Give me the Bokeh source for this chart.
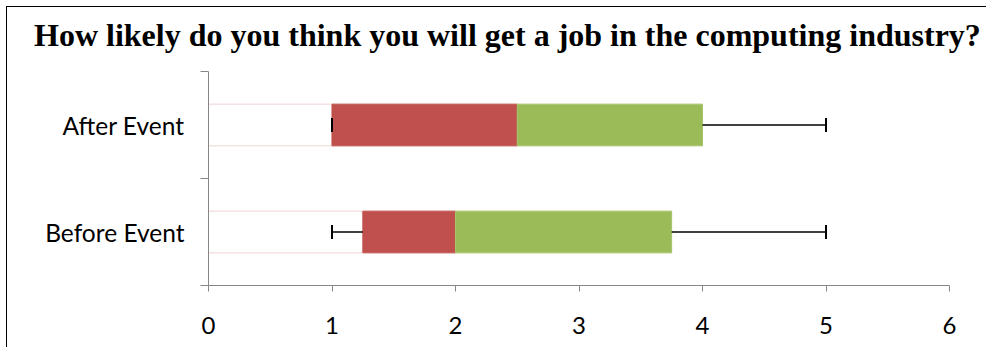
import math
from bokeh.plotting import figure
from bokeh.layouts import column
from bokeh.models import FixedTicker, ColumnDataSource, Div
from bokeh.embed import file_html
from bokeh.resources import INLINE

# ---- data ----
categories = ["Before Event", "After Event"]
minimum = [1, 1]
q1 = [1.25, 1]
median = [2, 2.5]
q3 = [3.75, 4]
maximum = [5, 5]
x_ticks = [0, 1, 2, 3, 4, 5, 6]
title_text = "How likely do you think you will get a job in the computing industry?"

pos = [i + 0.5 for i in range(len(categories))]
src = ColumnDataSource(dict(y=pos, zero=[0] * len(pos), mn=minimum, q1=q1,
                            med=median, q3=q3, mx=maximum))

AX = "#868686"
p = figure(frame_width=741, frame_height=214,
           min_border_left=201, min_border_right=37,
           min_border_top=14, min_border_bottom=62,
           x_range=(0, 6), y_range=(0, len(categories)),
           output_backend="svg", toolbar_location=None)
p.grid.visible = False
p.outline_line_color = None
p.background_fill_color = "white"
p.border_fill_color = "white"

# x axis
p.xaxis.ticker = FixedTicker(ticks=x_ticks)
p.xaxis.axis_line_color = AX
p.xaxis.major_tick_line_color = AX
p.xaxis.major_tick_out = 6
p.xaxis.major_tick_in = 0
p.xaxis.minor_tick_line_color = None
p.xaxis.major_label_text_font = "Lato"
p.xaxis.major_label_text_font_size = "24px"
p.xaxis.major_label_text_color = "black"
p.xaxis.major_label_standoff = 25

# y axis
p.yaxis.ticker = FixedTicker(ticks=pos, minor_ticks=[0, 1, 2])
p.yaxis.major_label_overrides = {pv: c for pv, c in zip(pos, categories)}
p.yaxis.axis_line_color = AX
p.yaxis.major_tick_line_color = None
p.yaxis.major_tick_out = 0
p.yaxis.major_tick_in = 0
p.yaxis.minor_tick_line_color = AX
p.yaxis.minor_tick_out = 8
p.yaxis.minor_tick_in = 0
p.yaxis.major_label_text_font = "Lato"
p.yaxis.major_label_text_font_size = "24.5px"
p.yaxis.major_label_text_color = "black"
p.yaxis.major_label_standoff = 16

H = 0.39
p.hbar(y="y", left="zero", right="q1", height=H, source=src,
       fill_alpha=0, line_color="#eed3d3", line_width=1)
p.hbar(y="y", left="q1", right="med", height=H, source=src,
       fill_color="#C0504D", line_color="#C0504D")
p.hbar(y="y", left="med", right="q3", height=H, source=src,
       fill_color="#9BBB59", line_color="#A6C46A")

p.segment(x0="mn", y0="y", x1="q1", y1="y", source=src, line_color="black", line_width=1.5)
p.segment(x0="q3", y0="y", x1="mx", y1="y", source=src, line_color="black", line_width=1.5)
p.scatter(x="mn", y="y", source=src, marker="dash", angle=math.pi / 2, size=14,
          line_color="black", line_width=2)
p.scatter(x="mx", y="y", source=src, marker="dash", angle=math.pi / 2, size=14,
          line_color="black", line_width=2)

title = Div(
    text=('<div style="font-family:\'Liberation Serif\';font-weight:bold;'
          'font-size:32px;line-height:32px;padding-left:27px;padding-top:12px;'
          'white-space:nowrap;color:black;">' + title_text + '</div>'),
    width=979, height=50, margin=(0, 0, 0, 0))

layout = column(title, p, spacing=0)
layout.styles = {"border-left": "1px solid black", "border-top": "1px solid black",
                 "margin-left": "6px", "margin-top": "6px", "background": "white"}

open("out.html", "w").write(file_html(layout, INLINE))
